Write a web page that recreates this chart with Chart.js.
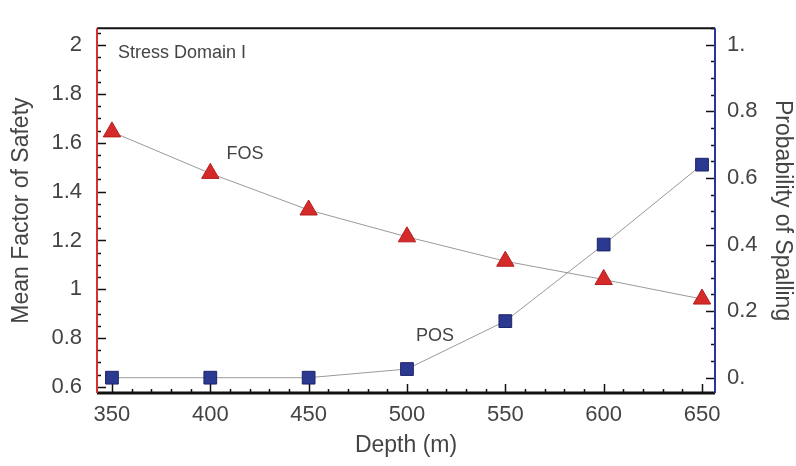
<!DOCTYPE html>
<html>
<head>
<meta charset="utf-8">
<script src="https://cdn.jsdelivr.net/npm/chart.js@4.4.1/dist/chart.umd.min.js"></script>
<style>
html, body { margin: 0; padding: 0; background: #fff; }
#wrap { width: 796px; height: 466px; }
</style>
</head>
<body>
<div id="wrap"><canvas id="myChart"></canvas></div>
<script>
// values
const depths = [350, 400, 450, 500, 550, 600, 650];
const fosValues = [1.645, 1.475, 1.325, 1.215, 1.115, 1.04, 0.96];
const posValues = [0, 0, 0, 0.026, 0.17, 0.40, 0.64];

const depthTicks = [350, 400, 450, 500, 550, 600, 650];
const fosTicks = [0.6, 0.8, 1, 1.2, 1.4, 1.6, 1.8, 2];
const fosTickLabels = ['0.6', '0.8', '1', '1.2', '1.4', '1.6', '1.8', '2'];
const posTicks = [0, 0.2, 0.4, 0.6, 0.8, 1];
const posTickLabels = ['0.', '0.2', '0.4', '0.6', '0.8', '1.'];

const FONT = '"Liberation Sans", Arial, sans-serif';
const TXT = '#444';

// inner ticks, frame and text labels
const framePlugin = {
    id: 'frame',
    beforeDatasetsDraw(chart) {
        const ctx = chart.ctx;
        const a = chart.chartArea;
        const x = chart.scales.x, y = chart.scales.y, y2 = chart.scales.y2;
        ctx.save();
        ctx.strokeStyle = '#111';
        ctx.lineWidth = 1.5;
        ctx.beginPath();
        // left axis ticks
        for (let v = 0.6; v <= 2.051; v += 0.05) {
            const p = Math.round(y.getPixelForValue(v)) + 0.5;
            const major = Math.abs(v * 5 - Math.round(v * 5)) < 0.01;
            ctx.moveTo(a.left, p);
            ctx.lineTo(a.left + (major ? 9 : 4), p);
        }
        // right axis ticks
        for (let v = 0; v <= 1.051; v += 0.05) {
            const p = Math.round(y2.getPixelForValue(v)) + 0.5;
            const major = Math.abs(v * 5 - Math.round(v * 5)) < 0.01;
            ctx.moveTo(a.right, p);
            ctx.lineTo(a.right - (major ? 9 : 4), p);
        }
        // bottom ticks
        for (let v = 350; v <= 650; v += 10) {
            const p = Math.round(x.getPixelForValue(v)) + 0.5;
            const major = v % 50 === 0;
            ctx.moveTo(p, a.bottom);
            ctx.lineTo(p, a.bottom - (major ? 9 : 4));
        }
        ctx.stroke();

        ctx.lineWidth = 2;
        ctx.strokeStyle = '#111';
        ctx.beginPath();
        ctx.moveTo(a.left, a.top);
        ctx.lineTo(a.right, a.top);
        ctx.stroke();
        ctx.lineWidth = 3;
        ctx.beginPath();
        ctx.moveTo(a.left, a.bottom);
        ctx.lineTo(a.right, a.bottom);
        ctx.stroke();
        ctx.lineWidth = 2;
        ctx.strokeStyle = '#d93030';
        ctx.beginPath();
        ctx.moveTo(a.left, a.top);
        ctx.lineTo(a.left, a.bottom);
        ctx.stroke();
        ctx.strokeStyle = '#2a35a0';
        ctx.beginPath();
        ctx.moveTo(a.right, a.top);
        ctx.lineTo(a.right, a.bottom);
        ctx.stroke();

        // labels inside the plot
        ctx.fillStyle = TXT;
        ctx.textBaseline = 'middle';
        ctx.textAlign = 'left';
        ctx.font = '18px ' + FONT;
        ctx.fillText('Stress Domain I', x.getPixelForValue(353.1), y.getPixelForValue(1.968));
        ctx.textAlign = 'center';
        ctx.fillText('FOS', x.getPixelForValue(417.6), y.getPixelForValue(1.556));
        ctx.fillText('POS', x.getPixelForValue(514.2), y.getPixelForValue(0.81));
        ctx.restore();
    }
};

const ctx = document.getElementById('myChart').getContext('2d');
const myChart = new Chart(ctx, {
    type: 'line',
    data: {
        datasets: [{
            label: 'FOS',
            data: depths.map((d, i) => ({ x: d, y: fosValues[i] })),
            yAxisID: 'y',
            borderColor: '#999',
            borderWidth: 1,
            pointStyle: 'triangle',
            pointRadius: 10,
            pointBackgroundColor: '#d42a2a',
            pointBorderColor: '#b51c1c',
            pointBorderWidth: 1
        }, {
            label: 'POS',
            data: depths.map((d, i) => ({ x: d, y: posValues[i] })),
            yAxisID: 'y2',
            borderColor: '#999',
            borderWidth: 1,
            pointStyle: 'rect',
            pointRadius: 9,
            pointBackgroundColor: '#2b3990',
            pointBorderColor: '#1c2468',
            pointBorderWidth: 1
        }]
    },
    options: {
        responsive: true,
        maintainAspectRatio: false,
        animation: false,
        layout: { padding: { top: 12, left: 0, right: 0, bottom: 0 } },
        plugins: { legend: { display: false }, tooltip: { enabled: false } },
        scales: {
            x: {
                type: 'linear',
                min: 342.4,
                max: 656.6,
                grid: { display: false, drawTicks: false },
                border: { display: false },
                afterBuildTicks: s => { s.ticks = depthTicks.map(v => ({ value: v })); },
                afterFit: s => { s.height = 73; },
                ticks: { padding: 9, color: TXT, font: { family: FONT, size: 22 } },
                title: {
                    display: true, text: 'Depth (m)', color: TXT,
                    font: { family: FONT, size: 23 }, padding: { top: 0, bottom: 7 }
                }
            },
            y: {
                type: 'linear',
                position: 'left',
                min: 0.575,
                max: 2.07,
                grid: { display: false, drawTicks: false },
                border: { display: false },
                afterBuildTicks: s => { s.ticks = fosTicks.map(v => ({ value: v })); },
                afterFit: s => { s.width = 97; },
                ticks: {
                    padding: 15, color: TXT, font: { family: FONT, size: 22 },
                    callback: (v, i) => fosTickLabels[i]
                },
                title: {
                    display: true, text: 'Mean Factor of Safety', color: TXT,
                    font: { family: FONT, size: 23 }, padding: { top: 8, bottom: 0 }
                }
            },
            y2: {
                type: 'linear',
                position: 'right',
                min: -0.046,
                max: 1.05,
                grid: { display: false, drawTicks: false },
                border: { display: false },
                afterBuildTicks: s => { s.ticks = posTicks.map(v => ({ value: v })); },
                afterFit: s => { s.width = 81; },
                ticks: {
                    padding: 12, color: TXT, font: { family: FONT, size: 22 },
                    callback: (v, i) => posTickLabels[i]
                },
                title: {
                    display: true, text: 'Probability of Spalling', color: TXT,
                    font: { family: FONT, size: 23 }, padding: { top: 0, bottom: 0 }
                }
            }
        }
    },
    plugins: [framePlugin]
});
</script>
</body>
</html>
